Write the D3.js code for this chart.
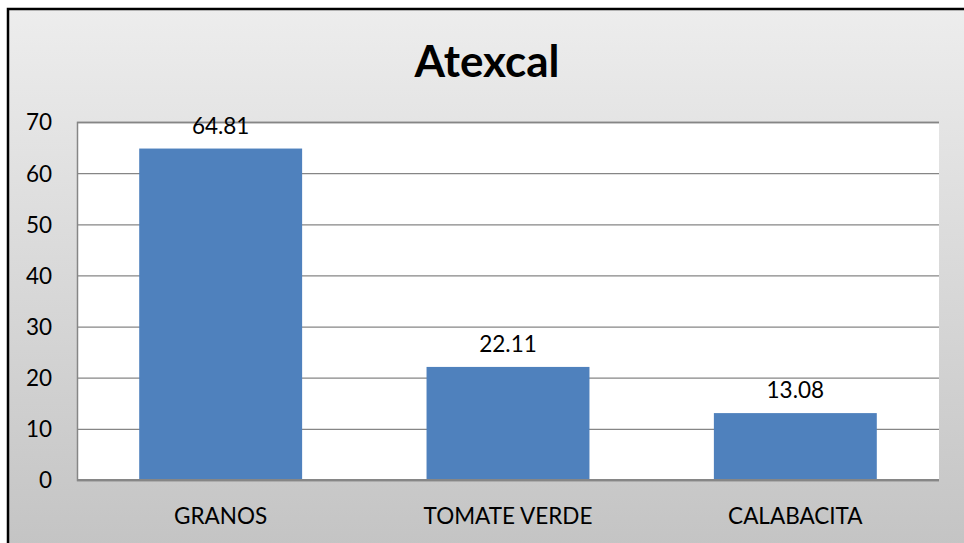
<!DOCTYPE html>
<html><head><meta charset="utf-8">
<script src="https://cdn.jsdelivr.net/npm/d3@7"></script>
<style>html,body{margin:0;padding:0;background:#fff;}svg{display:block;}</style>
</head><body>
<svg id="chart" width="964" height="543"></svg>
<script>
const categories = ["GRANOS", "TOMATE VERDE", "CALABACITA"];
const values = [64.81, 22.11, 13.08];
const valueLabels = ["64.81", "22.11", "13.08"];
const yTicks = [0, 10, 20, 30, 40, 50, 60, 70];
const title = "Atexcal";

const W = 964, H = 543;
const font = "Lato, 'Open Sans', sans-serif";
const fs = 22.5;
const svg = d3.select("#chart");
const defs = svg.append("defs");
const grad = defs.append("linearGradient").attr("id", "bg").attr("x1", 0).attr("y1", 0).attr("x2", 0).attr("y2", 1);
grad.append("stop").attr("offset", 0).attr("stop-color", "#ededed");
grad.append("stop").attr("offset", 1).attr("stop-color", "#c2c2c2");

svg.append("rect").attr("x", 8).attr("y", 9).attr("width", W + 20).attr("height", H + 20)
  .attr("fill", "url(#bg)").attr("stroke", "#000").attr("stroke-width", 2.5);

const m = {left: 77, top: 122, right: 939, bottom: 480};
const x = d3.scaleBand().domain(categories).range([m.left, m.right]).paddingInner(0.433).paddingOuter(0.2165);
const y = d3.scaleLinear().domain([0, 70]).range([m.bottom, m.top]);

svg.append("rect").attr("x", m.left).attr("y", m.top).attr("width", m.right - m.left).attr("height", m.bottom - m.top).attr("fill", "#fff");

const yAxis = d3.axisLeft(y).tickValues(yTicks).tickSize(-(m.right - m.left)).tickPadding(25).tickFormat(d3.format("d"));
const gy = svg.append("g").attr("transform", `translate(${m.left},0)`).call(yAxis);
gy.select(".domain").attr("stroke", "#868686").attr("stroke-width", 1.5);
gy.selectAll(".tick line").attr("stroke", "#868686").attr("stroke-width", 1.3);
gy.selectAll(".tick text").attr("font-family", font).attr("font-size", fs).attr("fill", "#000").attr("dy", "0.35em");

svg.append("g").selectAll("rect").data(values).join("rect")
  .attr("x", (d, i) => x(categories[i])).attr("width", x.bandwidth())
  .attr("y", d => y(d)).attr("height", d => y(0) - y(d)).attr("fill", "#4f81bd");

svg.append("line").attr("x1", m.left).attr("x2", m.right).attr("y1", y(0)).attr("y2", y(0)).attr("stroke", "#868686").attr("stroke-width", 2);

svg.append("g").selectAll("text").data(values).join("text")
  .attr("x", (d, i) => x(categories[i]) + x.bandwidth() / 2).attr("y", d => y(d) - 15)
  .attr("text-anchor", "middle").attr("font-family", font).attr("font-size", fs).attr("fill", "#000")
  .text((d, i) => valueLabels[i]);

const xAxis = d3.axisBottom(x).tickSize(0).tickPadding(0);
const gx = svg.append("g").attr("transform", `translate(0,${m.bottom})`).call(xAxis);
gx.select(".domain").remove();
gx.selectAll(".tick text").attr("font-family", font).attr("font-size", fs).attr("fill", "#000").attr("dy", 0).attr("y", 44);

svg.append("text").attr("x", 487).attr("y", 77).attr("text-anchor", "middle")
  .attr("font-family", font).attr("font-weight", "bold").attr("font-size", 44).attr("fill", "#000").text(title);
</script>
</body></html>
